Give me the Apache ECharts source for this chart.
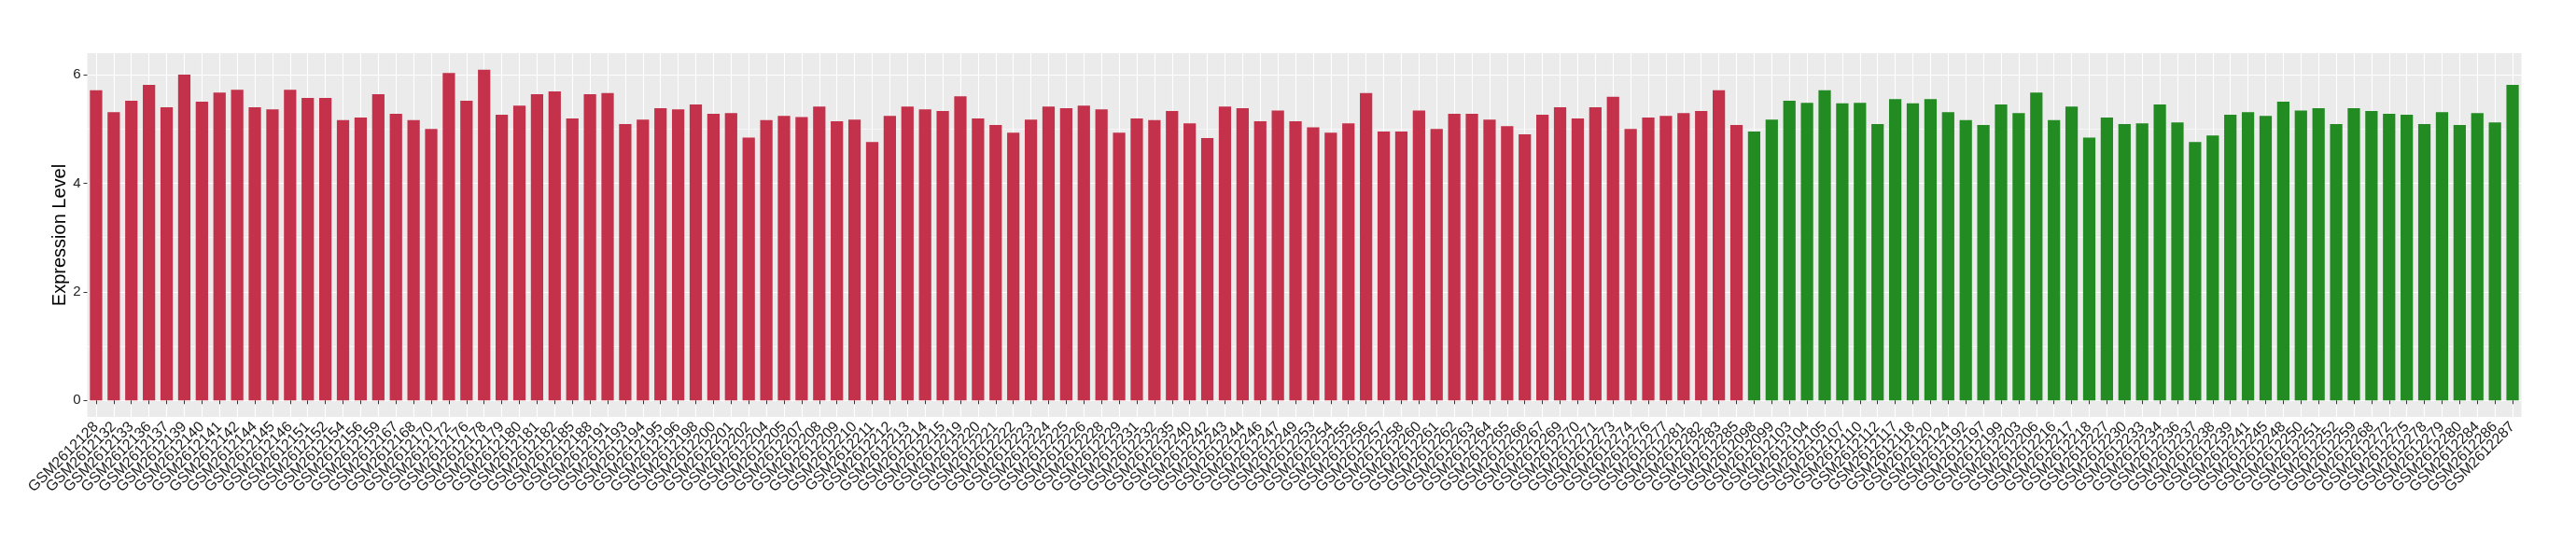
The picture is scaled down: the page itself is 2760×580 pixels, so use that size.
<!DOCTYPE html>
<html>
<head>
<meta charset="utf-8">
<script src="https://cdn.jsdelivr.net/npm/echarts@6/dist/echarts.min.js"></script>
<style>
html,body{margin:0;padding:0;background:#fff;}
#chart{width:2760px;height:580px;}
</style>
</head>
<body>
<div id="chart"></div>
<script>
const redSamples = ['GSM2612128','GSM2612132','GSM2612133','GSM2612136','GSM2612137','GSM2612139','GSM2612140','GSM2612141','GSM2612142','GSM2612144',
'GSM2612145','GSM2612146','GSM2612151','GSM2612152','GSM2612154','GSM2612156','GSM2612159','GSM2612167','GSM2612168','GSM2612170',
'GSM2612172','GSM2612176','GSM2612178','GSM2612179','GSM2612180','GSM2612181','GSM2612182','GSM2612185','GSM2612188','GSM2612191',
'GSM2612193','GSM2612194','GSM2612195','GSM2612196','GSM2612198','GSM2612200','GSM2612201','GSM2612202','GSM2612204','GSM2612205',
'GSM2612207','GSM2612208','GSM2612209','GSM2612210','GSM2612211','GSM2612212','GSM2612213','GSM2612214','GSM2612215','GSM2612219',
'GSM2612220','GSM2612221','GSM2612222','GSM2612223','GSM2612224','GSM2612225','GSM2612226','GSM2612228','GSM2612229','GSM2612231',
'GSM2612232','GSM2612235','GSM2612240','GSM2612242','GSM2612243','GSM2612244','GSM2612246','GSM2612247','GSM2612249','GSM2612253',
'GSM2612254','GSM2612255','GSM2612256','GSM2612257','GSM2612258','GSM2612260','GSM2612261','GSM2612262','GSM2612263','GSM2612264',
'GSM2612265','GSM2612266','GSM2612267','GSM2612269','GSM2612270','GSM2612271','GSM2612273','GSM2612274','GSM2612276','GSM2612277',
'GSM2612281','GSM2612282','GSM2612283','GSM2612285'];
const redValues = [5.71,5.31,5.52,5.81,5.40,6.00,5.50,5.67,5.72,5.40,
5.36,5.72,5.57,5.57,5.16,5.21,5.64,5.28,5.16,5.00,
6.03,5.52,6.09,5.26,5.43,5.64,5.69,5.19,5.64,5.66,
5.09,5.17,5.38,5.36,5.45,5.28,5.29,4.84,5.16,5.24,
5.22,5.41,5.14,5.17,4.76,5.24,5.41,5.36,5.33,5.60,
5.19,5.07,4.93,5.17,5.41,5.38,5.43,5.36,4.93,5.19,
5.16,5.33,5.10,4.83,5.41,5.38,5.14,5.34,5.14,5.03,
4.93,5.10,5.66,4.95,4.95,5.34,5.00,5.28,5.28,5.17,
5.05,4.90,5.26,5.40,5.19,5.40,5.59,5.00,5.21,5.24,
5.29,5.33,5.71,5.07];
const greenSamples = ['GSM2612098','GSM2612099','GSM2612103','GSM2612104','GSM2612105','GSM2612107','GSM2612110','GSM2612112','GSM2612117','GSM2612118',
'GSM2612120','GSM2612124','GSM2612192','GSM2612197','GSM2612199','GSM2612203','GSM2612206','GSM2612216','GSM2612217','GSM2612218',
'GSM2612227','GSM2612230','GSM2612233','GSM2612234','GSM2612236','GSM2612237','GSM2612238','GSM2612239','GSM2612241','GSM2612245',
'GSM2612248','GSM2612250','GSM2612251','GSM2612252','GSM2612259','GSM2612268','GSM2612272','GSM2612275','GSM2612278','GSM2612279',
'GSM2612280','GSM2612284','GSM2612286','GSM2612287'];
const greenValues = [4.95,5.17,5.52,5.48,5.71,5.47,5.48,5.09,5.55,5.47,
5.55,5.31,5.16,5.07,5.45,5.29,5.67,5.16,5.41,4.84,
5.21,5.09,5.10,5.45,5.12,4.76,4.88,5.26,5.31,5.24,
5.50,5.34,5.38,5.09,5.38,5.33,5.28,5.26,5.09,5.31,
5.07,5.29,5.12,5.81];
const yMajorTicks = [0, 2, 4, 6];
const yMinorTicks = [1, 3, 5];

const RED = '#C3314A';
const GREEN = '#228B22';
const categories = redSamples.concat(greenSamples);
const barData = redValues.map(v => ({value: v, itemStyle: {color: RED}}))
  .concat(greenValues.map(v => ({value: v, itemStyle: {color: GREEN}})));
const allVals = redValues.concat(greenValues);
const vmax = Math.max.apply(null, allVals);
const pad = vmax * 0.05;
const yMin = -pad, yMax = vmax + pad;

const FONT = "'Liberation Sans', Arial, Helvetica, sans-serif";
const chart = echarts.init(document.getElementById('chart'), null, {renderer: 'canvas'});
chart.setOption({
  animation: false,
  backgroundColor: '#ffffff',
  grid: {left: 93.5, right: 58.5, top: 57, bottom: 133, show: true, backgroundColor: '#EBEBEB', borderWidth: 0},
  xAxis: {
    type: 'category',
    data: categories,
    boundaryGap: true,
    axisLine: {show: false},
    axisTick: {show: true, alignWithLabel: true, interval: 0, length: 4, lineStyle: {color: '#333333', width: 1}},
    axisLabel: {interval: 0, rotate: 45, margin: 8, color: '#1a1a1a', fontSize: 16, fontFamily: FONT},
    splitLine: {show: true, alignWithLabel: true, interval: 0, lineStyle: {color: '#ffffff', width: 1.1}}
  },
  yAxis: [{
    type: 'value',
    min: yMin, max: yMax,
    axisLine: {show: false},
    axisTick: {show: true, length: 4, customValues: yMajorTicks, lineStyle: {color: '#333333', width: 1}},
    axisLabel: {customValues: yMajorTicks, margin: 7, color: '#222222', fontSize: 15, fontFamily: FONT},
    splitLine: {show: true, lineStyle: {color: '#ffffff', width: 1.1}},
    name: 'Expression Level',
    nameLocation: 'middle',
    nameRotate: 90,
    nameGap: 19,
    nameMoveOverlap: false,
    nameTextStyle: {color: '#000000', fontSize: 20, fontFamily: FONT}
  }, {
    type: 'value',
    min: yMin, max: yMax,
    position: 'left',
    axisLine: {show: false},
    axisTick: {show: false, customValues: yMinorTicks},
    axisLabel: {show: false, customValues: yMinorTicks},
    splitLine: {show: true, lineStyle: {color: '#ffffff', width: 0.55}}
  }],
  series: [{
    type: 'bar',
    data: barData,
    barWidth: '70%',
    z: 3
  }]
});
</script>
</body>
</html>
